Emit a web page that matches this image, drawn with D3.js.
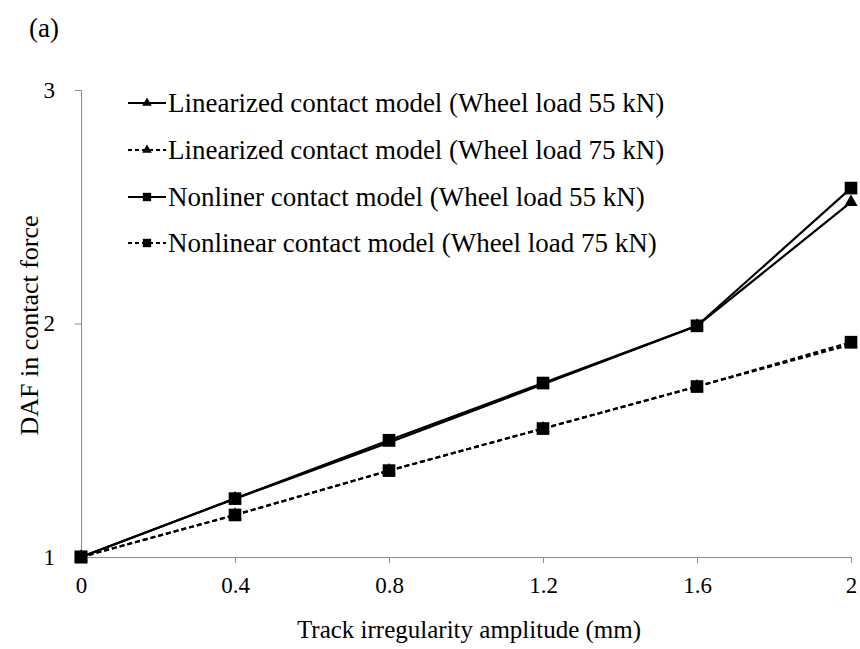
<!DOCTYPE html>
<html>
<head>
<meta charset="utf-8">
<script src="https://cdn.jsdelivr.net/npm/d3@7"></script>
<style>
  html, body { margin: 0; padding: 0; background: #fff; }
  svg { display: block; font-family: "Liberation Serif", "Times New Roman", serif; }
</style>
</head>
<body>
<svg id="chart" width="860" height="649"></svg>
<script>
// Track irregularity amplitude (mm)
const amplitudes = [0, 0.4, 0.8, 1.2, 1.6, 2];
// DAF in contact force for each model / wheel load
const linearized55 = [1, 1.25, 1.49, 1.74, 1.99, 2.52];
const linearized75 = [1, 1.18, 1.37, 1.55, 1.73, 1.91];
const nonlinear55  = [1, 1.25, 1.50, 1.745, 1.99, 2.58];
const nonlinear75  = [1, 1.18, 1.37, 1.55, 1.73, 1.92];
const seriesNames = [
  "Linearized contact model (Wheel load 55 kN)",
  "Linearized contact model (Wheel load 75 kN)",
  "Nonliner contact model (Wheel load 55 kN)",
  "Nonlinear contact model (Wheel load 75 kN)"
];
const xTicks = [0, 0.4, 0.8, 1.2, 1.6, 2];
const yTicks = [1, 2, 3];

const series = [
  { name: seriesNames[0], values: linearized55, dashed: false, marker: "triangle" },
  { name: seriesNames[1], values: linearized75, dashed: true,  marker: "triangle" },
  { name: seriesNames[2], values: nonlinear55,  dashed: false, marker: "square" },
  { name: seriesNames[3], values: nonlinear75,  dashed: true,  marker: "square" }
];

const svg = d3.select("#chart");
const plotLeft = 81, plotRight = 851, plotTop = 90, plotBottom = 557;

const x = d3.scaleLinear().domain([0, 2]).range([plotLeft, plotRight]);
const y = d3.scaleLinear().domain([1, 3]).range([plotBottom, plotTop]);

const axisColor = "#8c8c8c";
const serif = "Liberation Serif, serif";

// x axis
const gx = svg.append("g").attr("transform", `translate(0,${plotBottom})`)
  .call(d3.axisBottom(x).tickValues(xTicks).tickSize(6).tickPadding(14)
    .tickFormat(d => d === 0 || d === 2 ? String(d) : d3.format(".1f")(d)));
gx.select(".domain").attr("stroke", axisColor).attr("stroke-width", 1);
gx.selectAll(".tick line").attr("stroke", axisColor);
gx.selectAll(".tick text").attr("font-size", 23).attr("fill", "#000").attr("font-family", serif);

// y axis
const gy = svg.append("g").attr("transform", `translate(${plotLeft},0)`)
  .call(d3.axisLeft(y).tickValues(yTicks).tickSize(6).tickPadding(20).tickFormat(d3.format("d")));
gy.select(".domain").attr("stroke", axisColor).attr("stroke-width", 1);
gy.selectAll(".tick line").attr("stroke", axisColor);
gy.selectAll(".tick text").attr("font-size", 23).attr("fill", "#000").attr("font-family", serif);

// axis titles
svg.append("text").attr("x", (plotLeft + plotRight) / 2 + 3).attr("y", 638)
  .attr("text-anchor", "middle").attr("font-size", 25).text("Track irregularity amplitude (mm)");
svg.append("text").attr("transform", `translate(38,${(plotTop + plotBottom) / 2 + 2}) rotate(-90)`)
  .attr("text-anchor", "middle").attr("font-size", 26).text("DAF in contact force");

// panel label
svg.append("text").attr("x", 29).attr("y", 37).attr("font-size", 27).text("(a)");

// series lines
const line = d3.line().x((d, i) => x(amplitudes[i])).y(d => y(d));
series.forEach(s => {
  svg.append("path").datum(s.values)
    .attr("d", line)
    .attr("fill", "none")
    .attr("stroke", "#000")
    .attr("stroke-width", 2.2)
    .attr("stroke-dasharray", s.dashed ? "5,3" : null);
});

// markers
const sq = d3.symbol().type(d3.symbolSquare).size(160);
const tri = d3.symbol().type(d3.symbolTriangle).size(75);
series.forEach(s => {
  svg.append("g").selectAll("path").data(s.values).join("path")
    .attr("transform", (d, i) => `translate(${x(amplitudes[i])},${y(d)})`)
    .attr("d", s.marker === "square" ? sq : tri)
    .attr("fill", "#000");
});

// legend
const legend = svg.append("g");
const legendY = [103, 150, 197, 243];
series.forEach((s, i) => {
  const g = legend.append("g").attr("transform", `translate(128,${legendY[i]})`);
  g.append("line").attr("x1", 0).attr("x2", 38).attr("y1", 0).attr("y2", 0)
    .attr("stroke", "#000").attr("stroke-width", 2)
    .attr("stroke-dasharray", s.dashed ? "4,3" : null);
  g.append("path").attr("transform", "translate(19,0)")
    .attr("d", s.marker === "square" ? d3.symbol().type(d3.symbolSquare).size(70)()
                                      : d3.symbol().type(d3.symbolTriangle).size(40)())
    .attr("fill", "#000");
  g.append("text").attr("x", 40).attr("y", 9).attr("font-size", 27).text(s.name);
});
</script>
</body>
</html>
